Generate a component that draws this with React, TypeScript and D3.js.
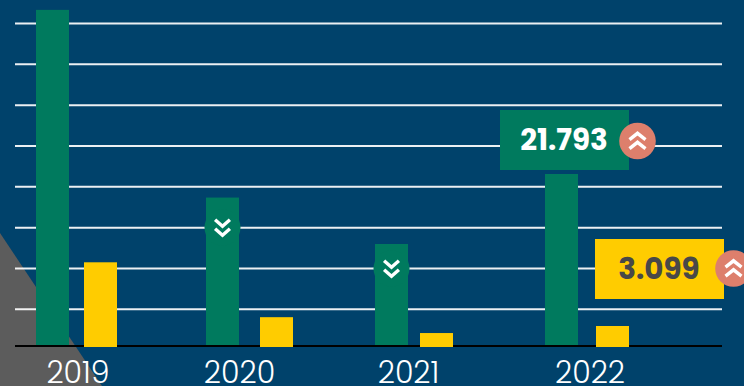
import React from "react";
import * as d3 from "d3";

const years = ["2019", "2020", "2021", "2022"];
const greenValues = [42.65, 18.8, 12.9, 21.793];
const yellowValues = [12.5, 4.4, 2.06, 3.099];
const gridSteps = [1, 2, 3, 4, 5, 6, 7, 8];
const greenLabel = "21.793";
const yellowLabel = "3.099";

const BG = "#00426b";
const GREEN = "#007a5e";
const YELLOW = "#ffcc00";
const SALMON = "#dd7f6c";

const yGreen = d3.scaleLinear().domain([0, 21.793]).range([345.5, 174]);
const yYellow = d3.scaleLinear().domain([0, 3.099]).range([347, 326]);
const yGrid = d3.scaleLinear().domain([0, 8]).range([350.2, 23.5]);
const xGreen = d3.scaleOrdinal<string, number>().domain(years).range([36, 206, 375, 545]);
const xYellow = d3.scaleOrdinal<string, number>().domain(years).range([84, 260, 420, 596]);
const xLabel = d3.scaleOrdinal<string, number>().domain(years).range([78, 239.5, 408.5, 590]);

const BAR_W = 33;
const font = "Poppins, Inter, 'Noto Sans', sans-serif";

function Chevrons({ cx, cy, up, w = 7.4 }: { cx: number; cy: number; up: boolean; w?: number }) {
  const dir = up ? -1 : 1;
  const h = 6.4;
  const line = d3.line();
  const chev = (off: number) =>
    line([
      [cx - w, cy + off - (dir * h) / 2],
      [cx, cy + off + (dir * h) / 2],
      [cx + w, cy + off - (dir * h) / 2],
    ]) as string;
  return (
    <g fill="none" stroke="#fff" strokeWidth={3.4}>
      <path d={chev(-4.5)} />
      <path d={chev(4.5)} />
    </g>
  );
}

export default function App() {
  return (
    <svg
      width={744}
      height={386}
      viewBox="0 0 744 386"
      style={{ position: "fixed", left: 0, top: 0, display: "block" }}
    >
      <rect x={0} y={0} width={744} height={386} fill={BG} />
      <path d="M0,233 L102,386 L0,386 Z" fill="#5c5c5c" />
      {gridSteps.map((s) => (
        <line key={s} x1={15} x2={722} y1={yGrid(s)} y2={yGrid(s)} stroke="#fff" strokeWidth={2} opacity={0.92} />
      ))}
      {years.map((y, i) => (
        <rect key={y} x={xGreen(y)} y={yGreen(greenValues[i])} width={BAR_W} height={yGreen(0) - yGreen(greenValues[i])} fill={GREEN} />
      ))}
      <line x1={15} x2={722} y1={346} y2={346} stroke="#000" strokeWidth={2} />
      {years.map((y, i) => (
        <rect key={"y" + y} x={xYellow(y)} y={yYellow(yellowValues[i])} width={BAR_W} height={yYellow(0) - yYellow(yellowValues[i])} fill={YELLOW} />
      ))}
      {years.map((y) => (
        <text key={"t" + y} x={xLabel(y)} y={383} textAnchor="middle" fill="#fff" fontFamily={font} fontSize={30} fontWeight={300}>
          {y}
        </text>
      ))}

      <circle cx={222.5} cy={227.5} r={18} fill={GREEN} />
      <Chevrons cx={222.5} cy={227.5} up={false} />
      <circle cx={391.5} cy={268.5} r={18} fill={GREEN} />
      <Chevrons cx={391.5} cy={268.5} up={false} />

      <rect x={500} y={110} width={129} height={60} fill={GREEN} />
      <text x={564} y={150} textAnchor="middle" fill="#fff" fontFamily={font} fontSize={29.4} fontWeight={700}>
        {greenLabel}
      </text>
      <circle cx={637.5} cy={141} r={18.3} fill={SALMON} />
      <Chevrons cx={637.5} cy={141} up={true} w={8} />

      <rect x={595} y={239} width={129} height={60} fill={YELLOW} />
      <text x={659} y={279} textAnchor="middle" fill="#484848" fontFamily={font} fontSize={29.4} fontWeight={700}>
        {yellowLabel}
      </text>
      <circle cx={733.5} cy={268.5} r={18.3} fill={SALMON} />
      <Chevrons cx={733.5} cy={268.5} up={true} w={8} />
    </svg>
  );
}
